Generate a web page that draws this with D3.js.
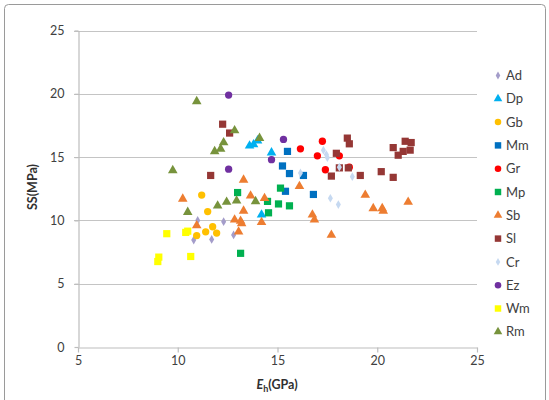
<!DOCTYPE html>
<html>
<head>
<meta charset="utf-8">
<script src="https://cdn.jsdelivr.net/npm/d3@7"></script>
<style>
  body { margin: 0; background: #fff; }
  svg text { font-family: Lato, "Open Sans", sans-serif; }
</style>
</head>
<body>
<div class="App"></div>
<script>
// series names, in legend order
let seriesNames = ['Ad', 'Dp', 'Gb', 'Mm', 'Gr', 'Mp', 'Sb', 'Sl', 'Cr', 'Ez', 'Wm', 'Rm'];

// [Eh (GPa), SS (MPa)] per series
let ad = [[10.8, 8.45], [11.0, 10.0], [11.7, 8.5], [12.3, 9.9], [12.8, 8.85]];
let dp = [[13.6, 15.9], [13.8, 16.0], [14.0, 16.3], [14.7, 15.35], [14.2, 10.45]];
let gb = [[11.2, 12.0], [11.5, 10.7], [10.95, 8.8], [11.4, 9.1], [11.75, 9.5], [11.95, 9.0]];
let mm = [[15.5, 15.45], [15.25, 14.3], [15.6, 13.7], [16.3, 13.55], [15.4, 12.3], [16.8, 12.05]];
let gr = [[16.15, 15.65], [17.25, 16.25], [17.0, 15.1], [18.1, 15.1], [17.4, 14.0], [18.6, 14.2]];
let mp = [[13.0, 12.2], [15.15, 12.55], [14.5, 11.5], [15.05, 11.3], [15.6, 11.15], [14.55, 10.6], [13.15, 7.4]];
let sb = [[10.25, 11.7], [10.95, 9.6], [13.3, 13.2], [13.65, 11.95], [14.35, 11.75], [12.85, 10.05],
          [13.15, 9.95], [13.2, 9.75], [13.3, 10.75], [13.05, 9.1], [14.2, 9.85], [16.1, 12.7],
          [16.75, 10.45], [16.85, 10.05], [17.7, 8.85], [19.4, 12.0], [19.8, 10.95], [20.25, 10.95],
          [20.3, 10.75], [21.55, 11.45]];
let sl = [[12.25, 17.6], [12.6, 16.9], [11.65, 13.55], [17.95, 15.3], [18.5, 16.5], [18.6, 16.05],
          [17.7, 13.5], [18.1, 14.15], [18.55, 14.15], [19.15, 13.55], [20.2, 13.85], [20.8, 15.75],
          [20.8, 13.4], [21.05, 15.15], [21.3, 15.45], [21.4, 16.25], [21.65, 15.55], [21.7, 16.15]];
let cr = [[17.3, 15.55], [17.45, 15.2], [17.5, 14.95], [16.15, 13.75], [17.65, 11.75], [18.05, 11.25],
          [18.1, 14.2], [18.75, 13.45]];
let ez = [[12.55, 19.9], [12.55, 14.05], [14.7, 14.8], [15.3, 16.4]];
let wm = [[9.05, 7.1], [9.0, 6.75], [9.45, 8.95], [10.4, 9.05], [10.5, 9.15], [10.65, 7.15]];
let rm = [[10.95, 19.4], [9.75, 13.95], [10.5, 10.65], [12.85, 17.1], [14.1, 16.5], [12.3, 16.15],
          [12.15, 15.65], [11.85, 15.45], [12.0, 11.15], [12.45, 11.45], [12.95, 11.55], [13.9, 11.5]];

let xTicks = [5, 10, 15, 20, 25];
let yTicks = [0, 5, 10, 15, 20, 25];

let allSeries = [ad, dp, gb, mm, gr, mp, sb, sl, cr, ez, wm, rm];
let colors = ['#a49dca', '#00b0f0', '#ffc000', '#0070c0', '#ff0000', '#00b050',
              '#ed7d31', '#953735', '#c6d9f1', '#7030a0', '#ffff00', '#77933c'];
let shapes = [d3.symbolDiamond, d3.symbolTriangle, d3.symbolCircle, d3.symbolSquare, d3.symbolCircle, d3.symbolSquare,
              d3.symbolTriangle, d3.symbolSquare, d3.symbolDiamond, d3.symbolCircle, d3.symbolSquare, d3.symbolTriangle];
let sizes = [22, 40, 42, 52, 42, 52, 40, 52, 22, 42, 52, 40];

let width = 549,
  height = 400;

let svg = d3.select(".App").append("svg")
  .attr("width", width)
  .attr("height", height);

// outer chart border
svg.append("rect")
  .attr("x", 4.5)
  .attr("y", 4.5)
  .attr("width", 541)
  .attr("height", 410)
  .attr("rx", 4)
  .attr("fill", "#fff")
  .attr("stroke", "#9a9a9a");

let x = d3.scaleLinear().domain([5, 25]).range([78, 477]);
let y = d3.scaleLinear().domain([0, 25]).range([347, 30.5]);

// horizontal gridlines
svg.selectAll(".grid")
  .data(yTicks.filter(function(d) { return d > 0; }))
  .enter().append("line")
  .attr("class", "grid")
  .attr("x1", x(5) - 4)
  .attr("x2", x(25))
  .attr("y1", function(d) { return Math.round(y(d)) + 0.5; })
  .attr("y2", function(d) { return Math.round(y(d)) + 0.5; })
  .attr("stroke", "#c4c4c4")
  .attr("stroke-width", 1.2);

let xAxis = svg.append("g")
  .attr("transform", "translate(0," + (Math.round(y(0)) + 0.5) + ")")
  .call(d3.axisBottom(x).tickValues(xTicks).tickSize(5).tickPadding(4).tickSizeOuter(0));

let yAxis = svg.append("g")
  .attr("transform", "translate(" + (Math.round(x(5)) + 0.5) + ",0)")
  .call(d3.axisLeft(y).tickValues(yTicks).tickSize(4).tickPadding(10).tickSizeOuter(0));

[xAxis, yAxis].forEach(function(g) {
  g.select(".domain").attr("stroke", "#bdbdbd").attr("stroke-width", 1.2);
  g.selectAll(".tick line").attr("stroke", "#bdbdbd").attr("stroke-width", 1.2);
  g.selectAll(".tick text").attr("fill", "#404040").style("font-size", "12.5px");
});

// points
allSeries.forEach(function(series, i) {
  let sym = d3.symbol().type(shapes[i]).size(sizes[i]);
  svg.append("g")
    .selectAll("path")
    .data(series)
    .enter().append("path")
    .attr("transform", function(d) { return "translate(" + x(d[0]) + "," + y(d[1]) + ")"; })
    .attr("d", sym)
    .attr("fill", colors[i]);
});

// legend
let legend = svg.append("g")
  .selectAll("g")
  .data(seriesNames)
  .enter().append("g")
  .attr("transform", function(d, i) { return "translate(498," + (75.5 + i * 23.3) + ")"; });

legend.append("path")
  .attr("d", function(d, i) { return d3.symbol().type(shapes[i]).size(sizes[i] * 0.8)(); })
  .attr("fill", function(d, i) { return colors[i]; });

legend.append("text")
  .attr("x", 8)
  .attr("dy", "0.36em")
  .attr("fill", "#404040")
  .style("font-size", "13px")
  .text(function(d) { return d; });

// axis titles
let xTitle = svg.append("text")
  .attr("x", 277)
  .attr("y", 389)
  .attr("text-anchor", "middle")
  .attr("fill", "#303030")
  .style("font-size", "12.5px")
  .style("font-weight", "bold");
xTitle.append("tspan").style("font-style", "italic").text("E");
xTitle.append("tspan").attr("dy", 3).style("font-size", "9px").text("h");
xTitle.append("tspan").attr("dy", -3).text("(GPa)");

svg.append("text")
  .attr("transform", "translate(37,187) rotate(-90)")
  .attr("text-anchor", "middle")
  .attr("fill", "#303030")
  .style("font-size", "12.5px")
  .style("font-weight", "bold")
  .text("SS(MPa)");
</script>
</body>
</html>
